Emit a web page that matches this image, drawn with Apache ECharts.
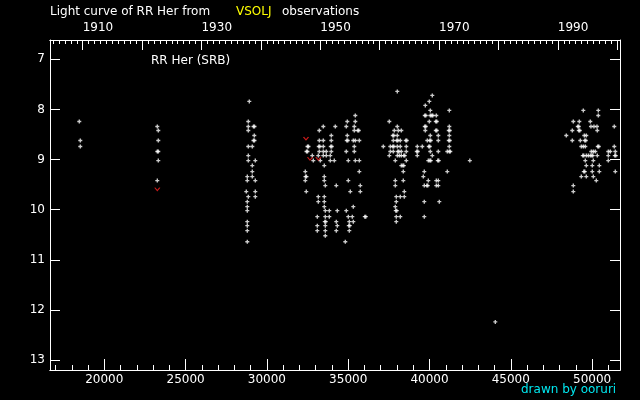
<!DOCTYPE html>
<html>
<head>
<meta charset="utf-8">
<script src="https://cdn.jsdelivr.net/npm/echarts@6/dist/echarts.min.js"></script>
<style>
  html, body { margin: 0; padding: 0; background: #000; }
  #chart { width: 640px; height: 400px; }
</style>
</head>
<body>
<div id="chart"></div>
<script>
// JD - 2400000 / visual magnitude
const obs1900s = [
  [18462, 8.24], [18524, 8.62], [18524, 8.74],
  [23260, 8.34], [23321, 8.42], [23321, 8.62], [23260, 8.84], [23321, 8.84],
  [23321, 9.02], [23260, 9.42]
]
const obs1930s = [
  [28918, 7.84], [28856, 8.24], [28856, 8.34], [29176, 8.34], [29238, 8.34],
  [28856, 8.42], [29225, 8.52], [29176, 8.62], [29238, 8.62],
  [28856, 8.74], [29102, 8.74], [28856, 8.92], [28856, 9.02], [29287, 9.02],
  [29102, 9.12], [29102, 9.24], [28795, 9.34], [29102, 9.34],
  [28795, 9.42], [29287, 9.42], [28733, 9.64], [29287, 9.64],
  [28856, 9.74], [29287, 9.74], [28795, 9.84], [28795, 9.94], [28795, 10.02],
  [28795, 10.24], [28795, 10.32], [28795, 10.42], [28795, 10.64]
]
const obs1950s = [
  [35437, 8.12],
  [34945, 8.24], [35437, 8.24],
  [33469, 8.34], [34207, 8.34], [34883, 8.34], [35375, 8.34],
  [33223, 8.42], [35375, 8.42], [35590, 8.42], [35650, 8.42],
  [33961, 8.52], [34945, 8.52],
  [33223, 8.62], [33469, 8.62], [33961, 8.62], [34914, 8.62], [34975, 8.62],
  [35314, 8.62], [35437, 8.62], [35683, 8.62],
  [32497, 8.74], [32558, 8.74], [33192, 8.74], [33253, 8.74], [33469, 8.74],
  [33930, 8.74], [33991, 8.74], [35375, 8.74],
  [32436, 8.84], [32497, 8.84], [33223, 8.84], [33469, 8.84], [33653, 8.84],
  [33961, 8.84], [34883, 8.84], [35375, 8.84],
  [32792, 8.92], [33161, 8.92], [33469, 8.92], [33653, 8.92], [33899, 8.92],
  [32854, 9.02], [33284, 9.02], [33899, 9.02], [34145, 9.02], [35006, 9.02],
  [35437, 9.02], [35683, 9.02],
  [33530, 9.12],
  [32362, 9.24], [35683, 9.24],
  [32374, 9.34], [32435, 9.34], [33530, 9.34],
  [32362, 9.42], [33530, 9.42], [35006, 9.42],
  [33592, 9.52], [34268, 9.52], [35744, 9.52],
  [32423, 9.64], [35129, 9.64], [35744, 9.64],
  [33161, 9.74], [33530, 9.74],
  [33161, 9.84], [33530, 9.84],
  [33530, 9.94], [35314, 9.94],
  [33592, 10.02], [33838, 10.02], [34330, 10.02], [34883, 10.02],
  [33100, 10.14], [33592, 10.14], [33838, 10.14], [35006, 10.14], [35252, 10.14],
  [36022, 10.14], [36083, 10.14],
  [33561, 10.24], [33622, 10.24], [34268, 10.24], [35068, 10.24], [35314, 10.24],
  [33100, 10.32], [33592, 10.32], [34330, 10.32], [35037, 10.32], [35098, 10.32],
  [33100, 10.42], [33592, 10.42], [34268, 10.42], [35068, 10.42],
  [33592, 10.52], [34822, 10.64]
]
const obs1960s = [
  [38020, 7.64], [40172, 7.72], [39988, 7.84], [39742, 7.92],
  [40049, 8.02], [41218, 8.02],
  [39711, 8.12], [39772, 8.12], [40049, 8.12], [40141, 8.12], [40202, 8.12], [40418, 8.12],
  [37528, 8.24], [39988, 8.24], [40388, 8.24], [40449, 8.24],
  [38020, 8.34], [39711, 8.34], [39772, 8.34], [41218, 8.34],
  [37835, 8.42], [38081, 8.42], [38266, 8.42], [39742, 8.42], [40388, 8.42],
  [40449, 8.42], [41187, 8.42], [41248, 8.42],
  [37743, 8.52], [37804, 8.52], [38020, 8.52], [40049, 8.52], [40541, 8.52], [41218, 8.52],
  [37774, 8.62], [37989, 8.62], [38050, 8.62], [38204, 8.62], [38542, 8.62],
  [38603, 8.62], [39865, 8.62], [40018, 8.62], [40079, 8.62], [40541, 8.62],
  [41187, 8.62], [41248, 8.62],
  [37159, 8.74], [37589, 8.74], [37743, 8.74], [37804, 8.74], [38020, 8.74],
  [38204, 8.74], [38573, 8.74], [39250, 8.74], [39557, 8.74], [39957, 8.74],
  [40018, 8.74], [41218, 8.74],
  [37589, 8.84], [37774, 8.84], [38050, 8.84], [38112, 8.84], [38266, 8.84],
  [38573, 8.84], [39219, 8.84], [39281, 8.84], [40049, 8.84], [40541, 8.84],
  [41095, 8.84], [41218, 8.84], [41279, 8.84],
  [37528, 8.92], [38020, 8.92], [38143, 8.92], [38266, 8.92], [38419, 8.92],
  [38481, 8.92], [39250, 8.92], [40172, 8.92],
  [37897, 9.02], [38573, 9.02], [39926, 9.02], [40018, 9.02], [40079, 9.02],
  [40510, 9.02], [40572, 9.02], [42480, 9.02],
  [38266, 9.12], [38358, 9.12], [38420, 9.12],
  [38389, 9.24], [39680, 9.24], [41095, 9.24],
  [39619, 9.34],
  [37897, 9.42], [38389, 9.42], [39926, 9.42], [40418, 9.42], [40541, 9.42],
  [37897, 9.52], [39680, 9.52], [39834, 9.52], [39895, 9.52], [40418, 9.52], [40541, 9.52],
  [38450, 9.64],
  [37958, 9.74], [38204, 9.74], [38450, 9.74],
  [37958, 9.84], [39680, 9.84], [40603, 9.84],
  [37897, 9.94],
  [37927, 10.02], [37989, 10.02],
  [37958, 10.14], [38204, 10.14], [39680, 10.14],
  [37958, 10.24],
  [44047, 12.24]
]
const obs1990s = [
  [49459, 8.02], [50381, 8.02],
  [50381, 8.12],
  [48844, 8.24], [49213, 8.24], [49889, 8.24],
  [49120, 8.34], [49182, 8.34], [49930, 8.34], [50115, 8.34], [50300, 8.34], [51365, 8.34],
  [48782, 8.42], [49182, 8.42], [49243, 8.42], [50320, 8.42],
  [48413, 8.52], [49520, 8.52], [49643, 8.52],
  [48782, 8.62], [49274, 8.62], [49551, 8.62], [49613, 8.62],
  [49336, 8.74], [49459, 8.74], [49582, 8.74], [50350, 8.74], [50412, 8.74], [51365, 8.74],
  [49951, 8.84], [50074, 8.84], [50197, 8.84], [50996, 8.84], [51119, 8.84], [51427, 8.84],
  [49428, 8.92], [49490, 8.92], [49643, 8.92], [49766, 8.92], [49889, 8.92],
  [49981, 8.92], [50043, 8.92], [50320, 8.92], [50996, 8.92], [51396, 8.92], [51457, 8.92],
  [49582, 9.02], [50074, 9.02], [50996, 9.02],
  [49643, 9.12], [50012, 9.12], [50443, 9.12],
  [49490, 9.24], [49551, 9.24], [50012, 9.24], [50443, 9.24], [51427, 9.24],
  [49336, 9.34], [49643, 9.34], [50074, 9.34],
  [50258, 9.42],
  [48844, 9.52],
  [48844, 9.64]
]
// fainter-than estimates (red v)
const fainterThan = [[23260, 9.59], [32405, 8.58], [32651, 8.98], [33161, 8.98]]

// axes
const jdMin = 16661
const jdMax = 51716
const magMin = 6.614
const magMax = 13.2
const jdLabels = [20000, 25000, 30000, 35000, 40000, 45000, 50000]
const magLabels = [7, 8, 9, 10, 11, 12, 13]
const yearMajor = [1910, 1920, 1930, 1940, 1950, 1960, 1970, 1980, 1990, 2000]
const yearLabels = [1910, 1930, 1950, 1970, 1990]

let jdMinor = []
for (let d = 17000; d <= 51000; d += 1000) {
  if (jdLabels.indexOf(d) < 0) jdMinor.push(d)
}
let yearMinor = []
for (let y = 1905; y <= 2000; y++) {
  if (yearMajor.indexOf(y) < 0) yearMinor.push(y)
}
// year (Jan 0) -> JD - 2400000
function yearToJD (y) { return 15020 + (y - 1900) * 365.25 }
function jdToYear (d) { return Math.round(1900 + (d - 15020) / 365.25) }

const FONT = 'DejaVu Sans'
const plusSymbol = 'path://M1,0H2V1H3V2H2V3H1V2H0V1H1Z'
const vSymbol = 'path://M0,0L2,3L4,0'

function xAxisDef (pos, ticks, len, labels, label) {
  return {
    type: 'value',
    position: pos,
    min: jdMin,
    max: jdMax,
    axisLine: { show: true, lineStyle: { color: '#fff', width: 1 } },
    axisTick: { show: true, inside: true, length: len, customValues: ticks, lineStyle: { color: '#fff', width: 1 } },
    axisLabel: labels ? Object.assign({
      customValues: labels, color: '#fff', fontSize: 12, fontFamily: FONT, margin: 4
    }, label) : { show: false },
    splitLine: { show: false }
  }
}

let myChart = echarts.init(document.getElementById('chart'))
myChart.setOption({
  backgroundColor: '#000',
  animation: false,
  grid: { left: 50, right: 20, top: 40, bottom: 30, outerBoundsMode: 'none' },
  xAxis: [
    xAxisDef('bottom', jdLabels, 11, jdLabels, { formatter: v => String(v) }),
    xAxisDef('bottom', jdMinor, 5, null),
    xAxisDef('top', yearMajor.map(yearToJD), 10, yearLabels.map(yearToJD),
      { formatter: v => String(jdToYear(v)), align: 'left', margin: 6 }),
    xAxisDef('top', yearMinor.map(yearToJD), 4, null)
  ],
  yAxis: [
    {
      type: 'value',
      position: 'left',
      inverse: true,
      min: magMin,
      max: magMax,
      axisLine: { show: true, lineStyle: { color: '#fff' } },
      axisTick: { show: true, inside: true, length: 10, customValues: magLabels, lineStyle: { color: '#fff' } },
      axisLabel: { customValues: magLabels, color: '#fff', fontSize: 12, fontFamily: FONT, margin: 5 },
      splitLine: { show: false }
    },
    {
      type: 'value',
      position: 'right',
      inverse: true,
      min: magMin,
      max: magMax,
      axisLine: { show: true, lineStyle: { color: '#fff' } },
      axisTick: { show: true, inside: true, length: 10, customValues: magLabels, lineStyle: { color: '#fff' } },
      axisLabel: { show: false },
      splitLine: { show: false }
    }
  ],
  series: [
    {
      name: 'obs',
      type: 'scatter',
      symbol: plusSymbol,
      symbolSize: 4,
      itemStyle: { color: '#fff' },
      data: [].concat(obs1900s, obs1930s, obs1950s, obs1960s, obs1990s)
    },
    {
      name: 'fainter',
      type: 'scatter',
      symbol: vSymbol,
      symbolSize: [5, 3],
      itemStyle: { color: 'transparent', borderColor: '#ff2020', borderWidth: 1 },
      data: fainterThan
    }
  ],
  graphic: [
    { type: 'text', x: 50, y: 12, style: { text: 'Light curve of RR Her from', fill: '#fff', font: '12px ' + FONT, textVerticalAlign: 'middle' } },
    { type: 'text', x: 236, y: 12, style: { text: 'VSOLJ', fill: '#ffff00', font: '12px ' + FONT, textVerticalAlign: 'middle' } },
    { type: 'text', x: 282, y: 12, style: { text: 'observations', fill: '#fff', font: '12px ' + FONT, textVerticalAlign: 'middle' } },
    { type: 'text', x: 151, y: 61, style: { text: 'RR Her (SRB)', fill: '#fff', font: '12px ' + FONT, textVerticalAlign: 'middle' } },
    { type: 'text', x: 521, y: 390, style: { text: 'drawn by ooruri', fill: '#00e8f0', font: '12px ' + FONT, textVerticalAlign: 'middle' } }
  ]
})
window.addEventListener('resize', function () {
  myChart.resize()
})
</script>
</body>
</html>
